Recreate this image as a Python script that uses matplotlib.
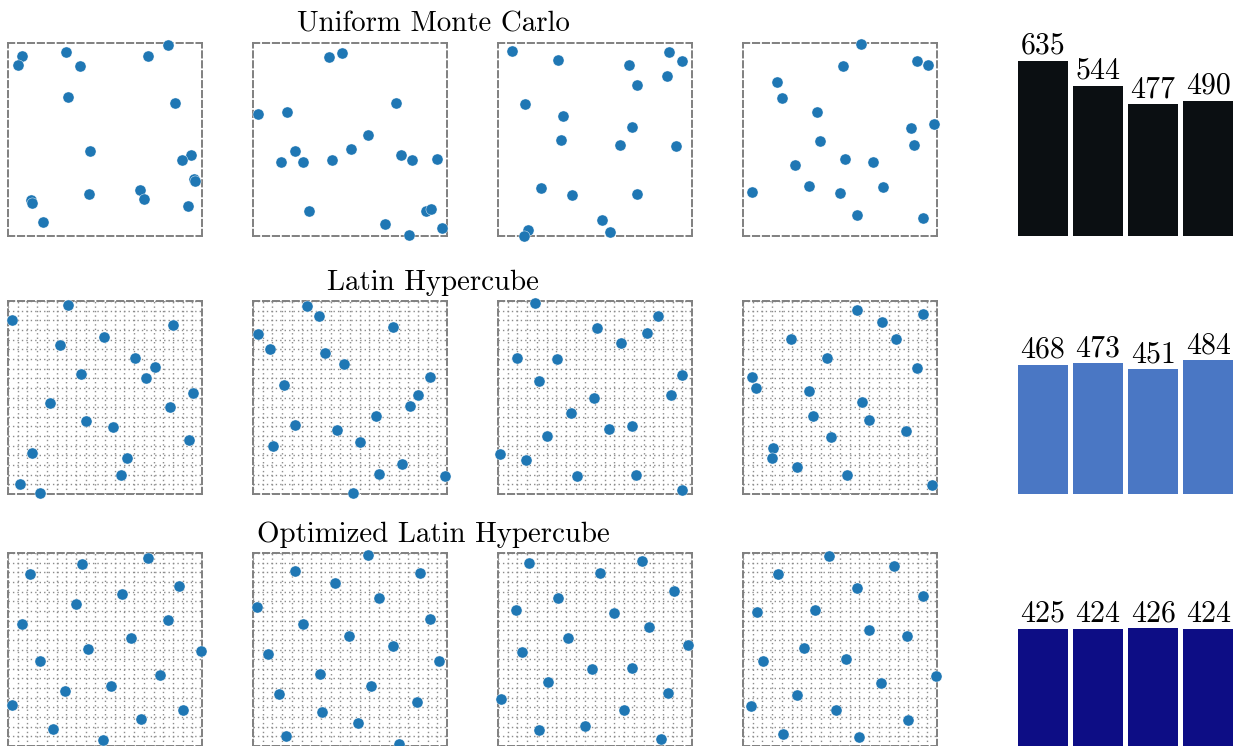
import matplotlib
matplotlib.use("Agg")
import matplotlib.pyplot as plt
import numpy as np

plt.rcParams['font.family'] = ['cmr10', 'DejaVu Serif']
plt.rcParams['axes.unicode_minus'] = False

# ---- data -------------------------------------------------------------
method_titles = ["Uniform Monte Carlo", "Latin Hypercube", "Optimized Latin Hypercube"]

# Uniform Monte Carlo samples, four independent draws of 20 points
mc_x = [
    [0.072, 0.053, 0.300, 0.372, 0.722, 0.824, 0.307, 0.862, 0.424, 0.941,
     0.897, 0.959, 0.966, 0.119, 0.126, 0.419, 0.679, 0.703, 0.928, 0.181],
    [0.390, 0.460, 0.026, 0.174, 0.738, 0.593, 0.503, 0.219, 0.143, 0.259,
     0.407, 0.762, 0.822, 0.948, 0.290, 0.678, 0.890, 0.919, 0.802, 0.976],
    [0.074, 0.307, 0.676, 0.884, 0.948, 0.872, 0.714, 0.140, 0.333, 0.690,
     0.326, 0.628, 0.917, 0.221, 0.383, 0.716, 0.538, 0.578, 0.153, 0.136],
    [0.609, 0.514, 0.897, 0.953, 0.174, 0.202, 0.379, 0.986, 0.864, 0.395,
     0.883, 0.524, 0.669, 0.266, 0.338, 0.722, 0.045, 0.500, 0.590, 0.926],
]
mc_y = [
    [0.933, 0.884, 0.953, 0.881, 0.933, 0.988, 0.718, 0.687, 0.438, 0.420,
     0.394, 0.294, 0.285, 0.189, 0.171, 0.218, 0.239, 0.192, 0.157, 0.073],
    [0.927, 0.948, 0.633, 0.645, 0.687, 0.524, 0.453, 0.443, 0.381, 0.381,
     0.393, 0.420, 0.393, 0.401, 0.131, 0.062, 0.128, 0.138, 0.005, 0.042],
    [0.957, 0.912, 0.884, 0.953, 0.905, 0.830, 0.784, 0.683, 0.623, 0.567,
     0.500, 0.472, 0.465, 0.251, 0.215, 0.220, 0.085, 0.022, 0.029, 0.002],
    [0.995, 0.881, 0.907, 0.888, 0.798, 0.716, 0.640, 0.580, 0.562, 0.493,
     0.474, 0.401, 0.386, 0.370, 0.261, 0.256, 0.227, 0.221, 0.111, 0.095],
]

# Latin hypercube samples
lhs_x = [
    [0.310, 0.019, 0.850, 0.493, 0.267, 0.657, 0.757, 0.376, 0.712, 0.955,
     0.219, 0.836, 0.403, 0.541, 0.931, 0.124, 0.614, 0.583, 0.060, 0.167],
    [0.278, 0.338, 0.721, 0.026, 0.088, 0.372, 0.467, 0.910, 0.160, 0.848,
     0.810, 0.636, 0.217, 0.434, 0.552, 0.105, 0.769, 0.648, 0.991, 0.516],
    [0.193, 0.824, 0.512, 0.769, 0.636, 0.100, 0.302, 0.947, 0.210, 0.893,
     0.495, 0.376, 0.691, 0.571, 0.255, 0.012, 0.145, 0.405, 0.710, 0.950],
    [0.590, 0.926, 0.717, 0.245, 0.788, 0.433, 0.897, 0.047, 0.069, 0.341,
     0.612, 0.360, 0.650, 0.840, 0.453, 0.157, 0.147, 0.276, 0.536, 0.974],
]
lhs_y = [
    [0.981, 0.901, 0.877, 0.813, 0.770, 0.705, 0.657, 0.620, 0.600, 0.525,
     0.473, 0.449, 0.380, 0.347, 0.279, 0.215, 0.184, 0.101, 0.052, 0.007],
    [0.972, 0.920, 0.865, 0.828, 0.750, 0.731, 0.676, 0.607, 0.565, 0.513,
     0.456, 0.406, 0.360, 0.334, 0.267, 0.248, 0.153, 0.102, 0.095, 0.003],
    [0.990, 0.920, 0.860, 0.835, 0.783, 0.707, 0.697, 0.615, 0.586, 0.511,
     0.496, 0.418, 0.352, 0.336, 0.298, 0.208, 0.177, 0.092, 0.101, 0.019],
    [0.955, 0.932, 0.893, 0.802, 0.801, 0.707, 0.652, 0.607, 0.551, 0.534,
     0.477, 0.406, 0.383, 0.324, 0.295, 0.236, 0.189, 0.139, 0.099, 0.045],
]

# Optimized (maximin) Latin hypercube samples
olhs_x = [
    [0.721, 0.379, 0.112, 0.881, 0.586, 0.350, 0.074, 0.824, 0.636, 0.414,
     0.995, 0.164, 0.781, 0.529, 0.293, 0.022, 0.902, 0.684, 0.233, 0.491],
    [0.593, 0.216, 0.862, 0.421, 0.650, 0.022, 0.914, 0.260, 0.497, 0.721,
     0.078, 0.957, 0.343, 0.609, 0.133, 0.843, 0.357, 0.540, 0.172, 0.755],
    [0.743, 0.160, 0.524, 0.905, 0.309, 0.091, 0.600, 0.779, 0.359, 0.978,
     0.124, 0.484, 0.690, 0.257, 0.876, 0.016, 0.650, 0.447, 0.212, 0.840],
    [0.445, 0.778, 0.181, 0.588, 0.929, 0.371, 0.072, 0.650, 0.843, 0.312,
     0.533, 0.103, 0.997, 0.710, 0.278, 0.041, 0.479, 0.852, 0.205, 0.600],
]
olhs_y = [
    [0.972, 0.945, 0.893, 0.827, 0.789, 0.735, 0.631, 0.652, 0.562, 0.505,
     0.493, 0.439, 0.370, 0.310, 0.284, 0.215, 0.189, 0.142, 0.087, 0.029],
    [0.990, 0.907, 0.896, 0.846, 0.768, 0.718, 0.656, 0.631, 0.571, 0.516,
     0.479, 0.439, 0.372, 0.310, 0.268, 0.230, 0.175, 0.118, 0.050, 0.009],
    [0.960, 0.946, 0.894, 0.804, 0.768, 0.704, 0.689, 0.618, 0.562, 0.524,
     0.486, 0.398, 0.403, 0.334, 0.273, 0.246, 0.189, 0.104, 0.083, 0.038],
    [0.986, 0.934, 0.891, 0.820, 0.777, 0.706, 0.692, 0.600, 0.571, 0.510,
     0.453, 0.443, 0.365, 0.327, 0.263, 0.208, 0.187, 0.135, 0.062, 0.047],
]

# Discrepancy-style score of every sample set
mc_scores = [635, 544, 477, 490]
lhs_scores = [468, 473, 451, 484]
olhs_scores = [425, 424, 426, 424]

bar_colors = ["#0b0f12", "#4a77c4", "#0d0d85"]
n_cells = 20

# ---- figure -----------------------------------------------------------
W, H = 1233, 746
fig = plt.figure(figsize=(W / 100, H / 100), dpi=100)


def px_axes(left, top, w, h):
    return fig.add_axes([left / W, 1 - (top + h) / H, w / W, h / H])


col_left = [8, 253, 498, 743]
row_top = [43, 301, 553]
title_baseline = [32, 290, 542]
panel_w, panel_h = 194, 193

samples = [(mc_x, mc_y), (lhs_x, lhs_y), (olhs_x, olhs_y)]
scores = [mc_scores, lhs_scores, olhs_scores]
y_top = max(max(s) for s in scores) * 1.1

for r in range(3):
    xs, ys = samples[r]
    for c in range(4):
        ax = px_axes(col_left[c], row_top[r], panel_w, panel_h)
        ax.set_xlim(0, 1)
        ax.set_ylim(0, 1)
        if r > 0:
            grid = np.linspace(0, 1, n_cells + 1)
            ax.set_xticks(grid)
            ax.set_yticks(grid)
            ax.grid(True, linestyle=(0, (1, 2.2)), color='#8c8c8c',
                    linewidth=1.0)
        else:
            ax.set_xticks([])
            ax.set_yticks([])
        ax.tick_params(length=0, labelbottom=False, labelleft=False)
        for sp in ax.spines.values():
            sp.set_linestyle((0, (3.2, 1.9)))
            sp.set_color('#808080')
            sp.set_linewidth(1.4)
        ax.scatter(xs[c], ys[c], s=64, color='#1f77b4', edgecolor='white',
                   linewidth=0.3, clip_on=False, zorder=3)

    fig.text(433 / W, 1 - title_baseline[r] / H, method_titles[r],
             ha='center', va='baseline', fontsize=20.8)

    bax = px_axes(1018, row_top[r], 215, panel_h)
    pos = np.arange(len(scores[r]))
    bax.bar(pos, scores[r], width=0.9, color=bar_colors[r])
    for p, v in zip(pos, scores[r]):
        bax.annotate(str(v), (p, v), xytext=(0, 5), textcoords='offset points',
                     ha='center', va='baseline', fontsize=21.5,
                     annotation_clip=False)
    bax.set_xlim(-0.45, len(pos) - 0.55)
    bax.set_ylim(0, y_top)
    bax.axis('off')

fig.savefig("out.png", dpi=100)
